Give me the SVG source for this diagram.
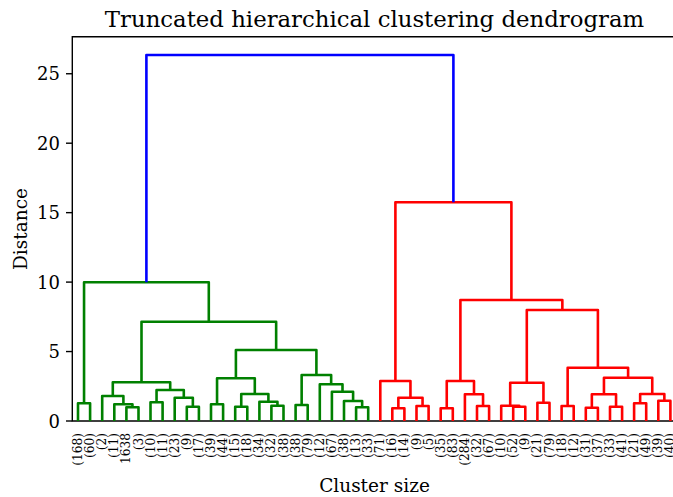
<svg xmlns="http://www.w3.org/2000/svg" width="673" height="497" viewBox="0 0 673 497">
<style>
text{font-family:"DejaVu Serif","Liberation Serif",serif;fill:#000}
.title{font-size:22.8px;text-anchor:middle}
.axl{font-size:18.5px;text-anchor:middle}
.tick{font-size:18px;text-anchor:end;dominant-baseline:central}
.leaf{font-size:12.2px;text-anchor:end;dominant-baseline:central}
.spine{stroke:#000;stroke-width:1.4;fill:none;stroke-linecap:square}
.tk{stroke:#000;stroke-width:1.4}
.lk{fill:none;stroke-width:2.6;stroke-linejoin:round}
.g{stroke:#008000}.r{stroke:#ff0000}.b{stroke:#0000ff}
</style>
<rect width="673" height="497" fill="#fff"/>
<text class="title" x="374.5" y="26.5">Truncated hierarchical clustering dendrogram</text>
<g id="axes">
<path class="spine" d="M673,36.7 H72.3 V421 H673"/>
<g class="tk">
<line x1="66" y1="421" x2="72.3" y2="421"/>
<line x1="66" y1="351.55" x2="72.3" y2="351.55"/>
<line x1="66" y1="282.1" x2="72.3" y2="282.1"/>
<line x1="66" y1="212.65" x2="72.3" y2="212.65"/>
<line x1="66" y1="143.2" x2="72.3" y2="143.2"/>
<line x1="66" y1="73.75" x2="72.3" y2="73.75"/>
</g>
<text class="tick" x="60" y="421">0</text>
<text class="tick" x="60" y="351.55">5</text>
<text class="tick" x="60" y="282.1">10</text>
<text class="tick" x="60" y="212.65">15</text>
<text class="tick" x="60" y="143.2">20</text>
<text class="tick" x="60" y="73.75">25</text>
<text class="axl" transform="translate(27,229) rotate(-90)">Distance</text>
<text class="axl" x="374.5" y="492">Cluster size</text>
</g>
<g id="connectors">
<g class="lk g">
<path d="M78,421V403.3H90.1V421"/>
<path d="M126.4,421V407.3H138.5V421"/>
<path d="M114.3,421V404.3H132.45V407.3"/>
<path d="M102.2,421V396H123.4V404.3"/>
<path d="M150.5,421V402.3H162.6V421"/>
<path d="M186.8,421V406.7H198.9V421"/>
<path d="M174.7,421V397.7H192.85V406.7"/>
<path d="M156.55,402.3V390H183.8V397.7"/>
<path d="M112.8,396V382.3H170.2V390"/>
<path d="M211,421V404.3H223.1V421"/>
<path d="M235.2,421V406.7H247.3V421"/>
<path d="M271.4,421V405.7H283.5V421"/>
<path d="M259.4,421V401.7H277.45V405.7"/>
<path d="M241.25,406.7V394H268.4V401.7"/>
<path d="M217.05,404.3V378.3H254.8V394"/>
<path d="M295.6,421V405H307.7V421"/>
<path d="M356.1,421V407.3H368.2V421"/>
<path d="M344,421V401H362.15V407.3"/>
<path d="M331.9,421V391.7H353.1V401"/>
<path d="M319.8,421V384.3H342.5V391.7"/>
<path d="M301.65,405V375H331.15V384.3"/>
<path d="M235.9,378.3V350H316.4V375"/>
<path d="M141.5,382.3V321.7H276.15V350"/>
<path d="M84.05,403.3V282.3H208.8V321.7"/>
</g>
<g class="lk r">
<path d="M392.3,421V408.3H404.4V421"/>
<path d="M416.5,421V406H428.6V421"/>
<path d="M398.35,408.3V397.7H422.55V406"/>
<path d="M380.3,421V381H410.45V397.7"/>
<path d="M440.7,421V408.3H452.8V421"/>
<path d="M477,421V406H489.1V421"/>
<path d="M464.9,421V394.3H483.05V406"/>
<path d="M446.75,408.3V381H474V394.3"/>
<path d="M513.2,421V406.7H525.3V421"/>
<path d="M501.2,421V405.8H519.25V406.7"/>
<path d="M537.4,421V402.7H549.5V421"/>
<path d="M510.2,405.8V382.7H543.45V402.7"/>
<path d="M561.6,421V406H573.7V421"/>
<path d="M585.8,421V407.7H597.9V421"/>
<path d="M610,421V406.7H622.1V421"/>
<path d="M591.85,407.7V394.3H616.05V406.7"/>
<path d="M634.1,421V403.3H646.2V421"/>
<path d="M658.3,421V400.7H670.4V421"/>
<path d="M640.15,403.3V394H664.35V400.7"/>
<path d="M603.95,394.3V377.7H652.25V394"/>
<path d="M567.65,406V367.7H628.1V377.7"/>
<path d="M526.8,382.7V310H597.9V367.7"/>
<path d="M460.4,381V300H562.35V310"/>
<path d="M395.4,381V202.3H511.4V300"/>
</g>
<g class="lk b">
<path d="M146.4,282.3V55H453.4V202.3"/>
</g>
</g>
<g id="leaves">
<g id="leaf-0"><text class="leaf" transform="translate(78,433) rotate(-90)">(168)</text></g>
<g id="leaf-1"><text class="leaf" transform="translate(90.1,433) rotate(-90)">(60)</text></g>
<g id="leaf-2"><text class="leaf" transform="translate(102.2,433) rotate(-90)">(2)</text></g>
<g id="leaf-3"><text class="leaf" transform="translate(114.3,433) rotate(-90)">(11)</text></g>
<g id="leaf-4"><text class="leaf" transform="translate(126.4,433) rotate(-90)">1638</text></g>
<g id="leaf-5"><text class="leaf" transform="translate(138.5,433) rotate(-90)">(3)</text></g>
<g id="leaf-6"><text class="leaf" transform="translate(150.5,433) rotate(-90)">(10)</text></g>
<g id="leaf-7"><text class="leaf" transform="translate(162.6,433) rotate(-90)">(11)</text></g>
<g id="leaf-8"><text class="leaf" transform="translate(174.7,433) rotate(-90)">(23)</text></g>
<g id="leaf-9"><text class="leaf" transform="translate(186.8,433) rotate(-90)">(9)</text></g>
<g id="leaf-10"><text class="leaf" transform="translate(198.9,433) rotate(-90)">(17)</text></g>
<g id="leaf-11"><text class="leaf" transform="translate(211,433) rotate(-90)">(39)</text></g>
<g id="leaf-12"><text class="leaf" transform="translate(223.1,433) rotate(-90)">(44)</text></g>
<g id="leaf-13"><text class="leaf" transform="translate(235.2,433) rotate(-90)">(15)</text></g>
<g id="leaf-14"><text class="leaf" transform="translate(247.3,433) rotate(-90)">(18)</text></g>
<g id="leaf-15"><text class="leaf" transform="translate(259.4,433) rotate(-90)">(34)</text></g>
<g id="leaf-16"><text class="leaf" transform="translate(271.4,433) rotate(-90)">(32)</text></g>
<g id="leaf-17"><text class="leaf" transform="translate(283.5,433) rotate(-90)">(38)</text></g>
<g id="leaf-18"><text class="leaf" transform="translate(295.6,433) rotate(-90)">(38)</text></g>
<g id="leaf-19"><text class="leaf" transform="translate(307.7,433) rotate(-90)">(79)</text></g>
<g id="leaf-20"><text class="leaf" transform="translate(319.8,433) rotate(-90)">(12)</text></g>
<g id="leaf-21"><text class="leaf" transform="translate(331.9,433) rotate(-90)">(67)</text></g>
<g id="leaf-22"><text class="leaf" transform="translate(344,433) rotate(-90)">(38)</text></g>
<g id="leaf-23"><text class="leaf" transform="translate(356.1,433) rotate(-90)">(13)</text></g>
<g id="leaf-24"><text class="leaf" transform="translate(368.2,433) rotate(-90)">(33)</text></g>
<g id="leaf-25"><text class="leaf" transform="translate(380.3,433) rotate(-90)">(71)</text></g>
<g id="leaf-26"><text class="leaf" transform="translate(392.3,433) rotate(-90)">(16)</text></g>
<g id="leaf-27"><text class="leaf" transform="translate(404.4,433) rotate(-90)">(14)</text></g>
<g id="leaf-28"><text class="leaf" transform="translate(416.5,433) rotate(-90)">(9)</text></g>
<g id="leaf-29"><text class="leaf" transform="translate(428.6,433) rotate(-90)">(5)</text></g>
<g id="leaf-30"><text class="leaf" transform="translate(440.7,433) rotate(-90)">(35)</text></g>
<g id="leaf-31"><text class="leaf" transform="translate(452.8,433) rotate(-90)">(83)</text></g>
<g id="leaf-32"><text class="leaf" transform="translate(464.9,433) rotate(-90)">(284)</text></g>
<g id="leaf-33"><text class="leaf" transform="translate(477,433) rotate(-90)">(32)</text></g>
<g id="leaf-34"><text class="leaf" transform="translate(489.1,433) rotate(-90)">(67)</text></g>
<g id="leaf-35"><text class="leaf" transform="translate(501.2,433) rotate(-90)">(10)</text></g>
<g id="leaf-36"><text class="leaf" transform="translate(513.2,433) rotate(-90)">(52)</text></g>
<g id="leaf-37"><text class="leaf" transform="translate(525.3,433) rotate(-90)">(9)</text></g>
<g id="leaf-38"><text class="leaf" transform="translate(537.4,433) rotate(-90)">(21)</text></g>
<g id="leaf-39"><text class="leaf" transform="translate(549.5,433) rotate(-90)">(79)</text></g>
<g id="leaf-40"><text class="leaf" transform="translate(561.6,433) rotate(-90)">(18)</text></g>
<g id="leaf-41"><text class="leaf" transform="translate(573.7,433) rotate(-90)">(12)</text></g>
<g id="leaf-42"><text class="leaf" transform="translate(585.8,433) rotate(-90)">(31)</text></g>
<g id="leaf-43"><text class="leaf" transform="translate(597.9,433) rotate(-90)">(37)</text></g>
<g id="leaf-44"><text class="leaf" transform="translate(610,433) rotate(-90)">(33)</text></g>
<g id="leaf-45"><text class="leaf" transform="translate(622.1,433) rotate(-90)">(41)</text></g>
<g id="leaf-46"><text class="leaf" transform="translate(634.1,433) rotate(-90)">(21)</text></g>
<g id="leaf-47"><text class="leaf" transform="translate(646.2,433) rotate(-90)">(49)</text></g>
<g id="leaf-48"><text class="leaf" transform="translate(658.3,433) rotate(-90)">(39)</text></g>
<g id="leaf-49"><text class="leaf" transform="translate(670.4,433) rotate(-90)">(40)</text></g>
</g>
</svg>
